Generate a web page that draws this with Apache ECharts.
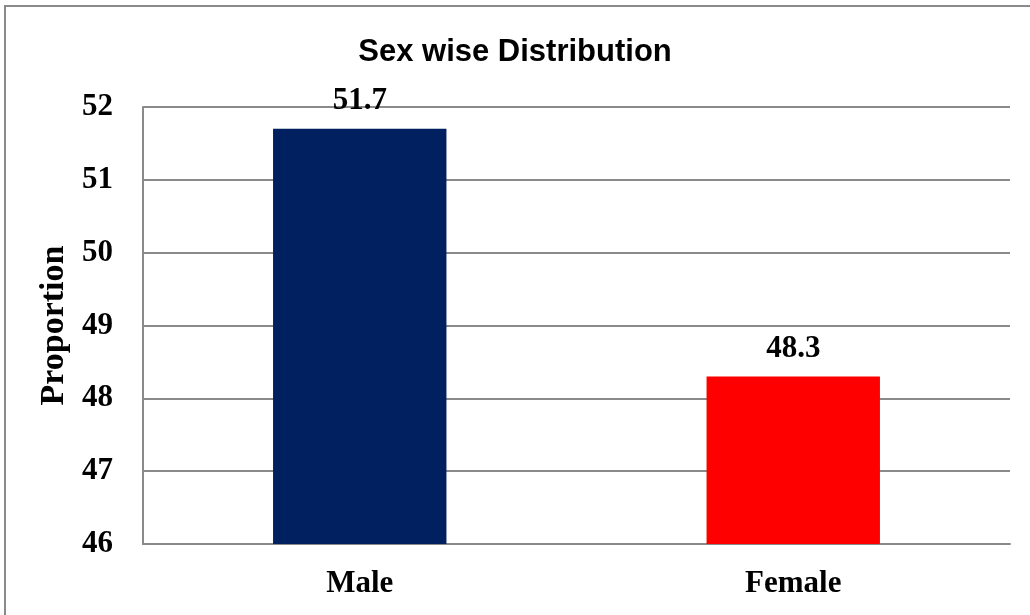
<!DOCTYPE html>
<html>
<head>
<meta charset="utf-8">
<script src="https://cdn.jsdelivr.net/npm/echarts@6/dist/echarts.min.js"></script>
<style>
  html, body { margin: 0; padding: 0; background: #fff; }
  #chart { width: 1030px; height: 615px; }
</style>
</head>
<body>
<div id="chart"></div>
<script>
var categories = ["Male", "Female"];
var proportions = [51.7, 48.3];
var barColors = ["#002060", "#ff0000"];
var yTicks = [46, 47, 48, 49, 50, 51, 52];

var serif = "'Liberation Serif', 'Times New Roman', serif";
var gridGray = "#8a8a8a";

var chart = echarts.init(document.getElementById("chart"));
chart.setOption({
  animation: false,
  backgroundColor: "#fff",
  graphic: [
    {
      type: "rect",
      shape: { x: 5, y: 6, width: 1040, height: 620 },
      style: { fill: "none", stroke: gridGray, lineWidth: 2 }
    }
  ],
  title: {
    text: "Sex wise Distribution",
    left: "center",
    top: 32,
    textStyle: {
      fontFamily: "'Liberation Sans', Arial, sans-serif",
      fontWeight: "bold",
      fontSize: 31,
      color: "#000"
    }
  },
  grid: {
    left: 143,
    right: 20,
    top: 107,
    bottom: 71
  },
  xAxis: {
    type: "category",
    data: categories,
    axisLine: { lineStyle: { color: gridGray, width: 2 } },
    axisTick: { show: false },
    axisLabel: {
      margin: 24,
      fontFamily: serif,
      fontWeight: "bold",
      fontSize: 31,
      color: "#000"
    }
  },
  yAxis: {
    type: "value",
    min: yTicks[0],
    max: yTicks[yTicks.length - 1],
    interval: 1,
    name: "Proportion",
    nameLocation: "middle",
    nameGap: 72,
    nameRotate: 90,
    nameTextStyle: {
      fontFamily: serif,
      fontWeight: "bold",
      fontSize: 34,
      color: "#000"
    },
    axisLine: { show: true, lineStyle: { color: gridGray, width: 2 } },
    axisTick: { show: false },
    splitLine: { lineStyle: { color: gridGray, width: 2 } },
    axisLabel: {
      margin: 30,
      fontFamily: serif,
      fontWeight: "bold",
      fontSize: 31,
      color: "#000"
    }
  },
  series: [
    {
      type: "bar",
      barWidth: "40%",
      data: proportions.map(function (v, i) {
        return { value: v, itemStyle: { color: barColors[i] } };
      }),
      label: {
        show: true,
        position: "top",
        distance: 12,
        fontFamily: serif,
        fontWeight: "bold",
        fontSize: 31,
        color: "#000"
      }
    }
  ]
});
</script>
</body>
</html>
